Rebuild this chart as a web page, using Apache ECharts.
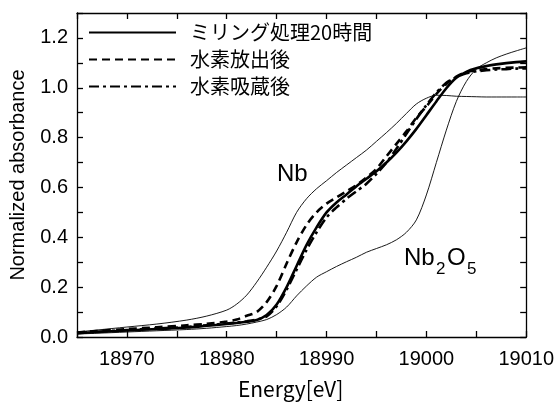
<!DOCTYPE html>
<html><head><meta charset="utf-8">
<script src="https://cdn.jsdelivr.net/npm/echarts@6/dist/echarts.min.js"></script>
<style>html,body{margin:0;padding:0;background:#fff}#c{width:557px;height:405px}</style>
</head><body><div id="c"></div>
<script>
const energy = [18965,18967,18970,18973,18976,18978,18980,18981,18982,18983,18984,18985,18986,18987,18988,18989,18990,18991,18992,18993,18994,18995,18996,18997,18998,18999,19000,19001,19002,19003,19004,19005,19006,19007,19008,19009,19010];
const nbRef = [0.02,0.028,0.04,0.052,0.068,0.084,0.108,0.132,0.168,0.22,0.28,0.345,0.42,0.50,0.555,0.595,0.627,0.66,0.69,0.72,0.75,0.785,0.82,0.857,0.897,0.935,0.958,0.97,0.969,0.966,0.965,0.964,0.963,0.963,0.963,0.963,0.963];
const nb2o5Ref = [0.012,0.015,0.02,0.025,0.03,0.035,0.042,0.046,0.052,0.06,0.07,0.09,0.12,0.165,0.205,0.24,0.262,0.283,0.302,0.32,0.34,0.355,0.37,0.39,0.42,0.47,0.57,0.70,0.83,0.945,1.025,1.075,1.1,1.12,1.135,1.148,1.16];
const milled = [0.015,0.02,0.026,0.032,0.038,0.045,0.052,0.056,0.061,0.068,0.088,0.13,0.20,0.285,0.37,0.44,0.50,0.54,0.572,0.605,0.635,0.665,0.70,0.74,0.785,0.835,0.89,0.945,0.998,1.04,1.064,1.078,1.087,1.094,1.099,1.103,1.106];
const desorbed = [0.018,0.024,0.032,0.039,0.047,0.053,0.062,0.07,0.085,0.10,0.14,0.205,0.295,0.38,0.45,0.50,0.535,0.56,0.585,0.61,0.64,0.675,0.725,0.775,0.825,0.88,0.925,0.975,1.015,1.045,1.062,1.07,1.075,1.078,1.08,1.081,1.082];
const absorbed = [0.016,0.021,0.028,0.034,0.04,0.047,0.054,0.058,0.063,0.07,0.083,0.123,0.19,0.27,0.35,0.42,0.48,0.52,0.555,0.585,0.615,0.655,0.70,0.755,0.815,0.875,0.93,0.98,1.02,1.043,1.058,1.066,1.07,1.073,1.075,1.077,1.078];
const seriesNames = ['ミリング処理20時間','水素放出後','水素吸蔵後'];
const xTicks = [18970,18980,18990,19000,19010];
const yTicks = [0.0,0.2,0.4,0.6,0.8,1.0,1.2];

const pair = arr => energy.map((e,i)=>[e,arr[i]]);
const chart = echarts.init(document.getElementById('c'));
const LAT = 'Liberation Sans, Arial, sans-serif';
const JP = 'Noto Sans CJK JP, sans-serif';
const axisFont = {fontFamily:LAT, fontSize:20, color:'#000'};
const baseX = {
  type:'value', min:18965, max:19010, interval:5,
  axisLine:{show:true,onZero:false,lineStyle:{color:'#000',width:1.3}},
  axisTick:{show:true,inside:true,length:6,lineStyle:{color:'#000',width:1.3}},
  splitLine:{show:false}
};
const baseY = {
  type:'value', min:0, max:1.3, interval:0.1,
  axisLine:{show:true,onZero:false,lineStyle:{color:'#000',width:1.3}},
  axisTick:{show:true,inside:true,length:6,lineStyle:{color:'#000',width:1.3}},
  splitLine:{show:false}
};
const yFmt = v => {
  const r = Math.round(v*10)/10;
  return (Math.abs(v-r)<1e-6 && yTicks.some(t=>Math.abs(t-r)<1e-9)) ? r.toFixed(1) : '';
};
const thick = 2.6;
const subFont = '17px "Liberation Sans", Arial, sans-serif';
const mainFont = '24px "Liberation Sans", Arial, sans-serif';
chart.setOption({
  animation:false,
  backgroundColor:'#fff',
  grid:{left:77,right:30,top:13,bottom:62},
  legend:{
    data:seriesNames, orient:'vertical', left:88, top:22, padding:0, itemWidth:87, itemHeight:14, itemGap:6,
    itemStyle:{opacity:0},
    textStyle:{fontFamily:JP, fontSize:20, lineHeight:21, color:'#000', padding:[0,0,0,9]}
  },
  xAxis:[
    Object.assign({}, baseX, {position:'bottom',
      axisLabel:Object.assign({}, axisFont, {margin:12, formatter:v=>xTicks.includes(v)?String(v):''}),
      name:'Energy[eV]', nameLocation:'middle', nameGap:42,
      nameTextStyle:{fontFamily:JP, fontSize:21, color:'#000', padding:[0,22,0,0]}}),
    Object.assign({}, baseX, {position:'top', axisLabel:{show:false}})
  ],
  yAxis:[
    Object.assign({}, baseY, {position:'left',
      axisLabel:Object.assign({}, axisFont, {margin:9, formatter:yFmt}),
      name:'Normalized absorbance', nameLocation:'middle', nameGap:49,
      nameTextStyle:{fontFamily:LAT, fontSize:20, color:'#000'}}),
    Object.assign({}, baseY, {position:'right', axisLabel:{show:false}})
  ],
  series:[
    {name:'Nb', type:'line', data:pair(nbRef), smooth:0.3, symbol:'none', lineStyle:{color:'#000',width:0.9}, z:2},
    {name:'Nb2O5', type:'line', data:pair(nb2o5Ref), smooth:0.3, symbol:'none', lineStyle:{color:'#000',width:0.9}, z:2},
    {name:seriesNames[0], type:'line', data:pair(milled), smooth:0.3, symbol:'none', itemStyle:{color:'#000'}, lineStyle:{color:'#000',width:thick}, z:3},
    {name:seriesNames[1], type:'line', data:pair(desorbed), smooth:0.3, symbol:'none', itemStyle:{color:'#000'}, lineStyle:{color:'#000',width:thick,type:[8,5]}, z:3},
    {name:seriesNames[2], type:'line', data:pair(absorbed), smooth:0.3, symbol:'none', itemStyle:{color:'#000'}, lineStyle:{color:'#000',width:thick,type:[10,4,3,4]}, z:3}
  ],
  graphic:[
    {type:'text', left:277, top:162, style:{text:'Nb', font:mainFont, fill:'#000'}},
    {type:'text', left:404, top:246, style:{text:'Nb', font:mainFont, fill:'#000'}},
    {type:'text', left:436, top:261, style:{text:'2', font:subFont, fill:'#000'}},
    {type:'text', left:447, top:246, style:{text:'O', font:mainFont, fill:'#000'}},
    {type:'text', left:467, top:261, style:{text:'5', font:subFont, fill:'#000'}}
  ]
});
</script></body></html>
